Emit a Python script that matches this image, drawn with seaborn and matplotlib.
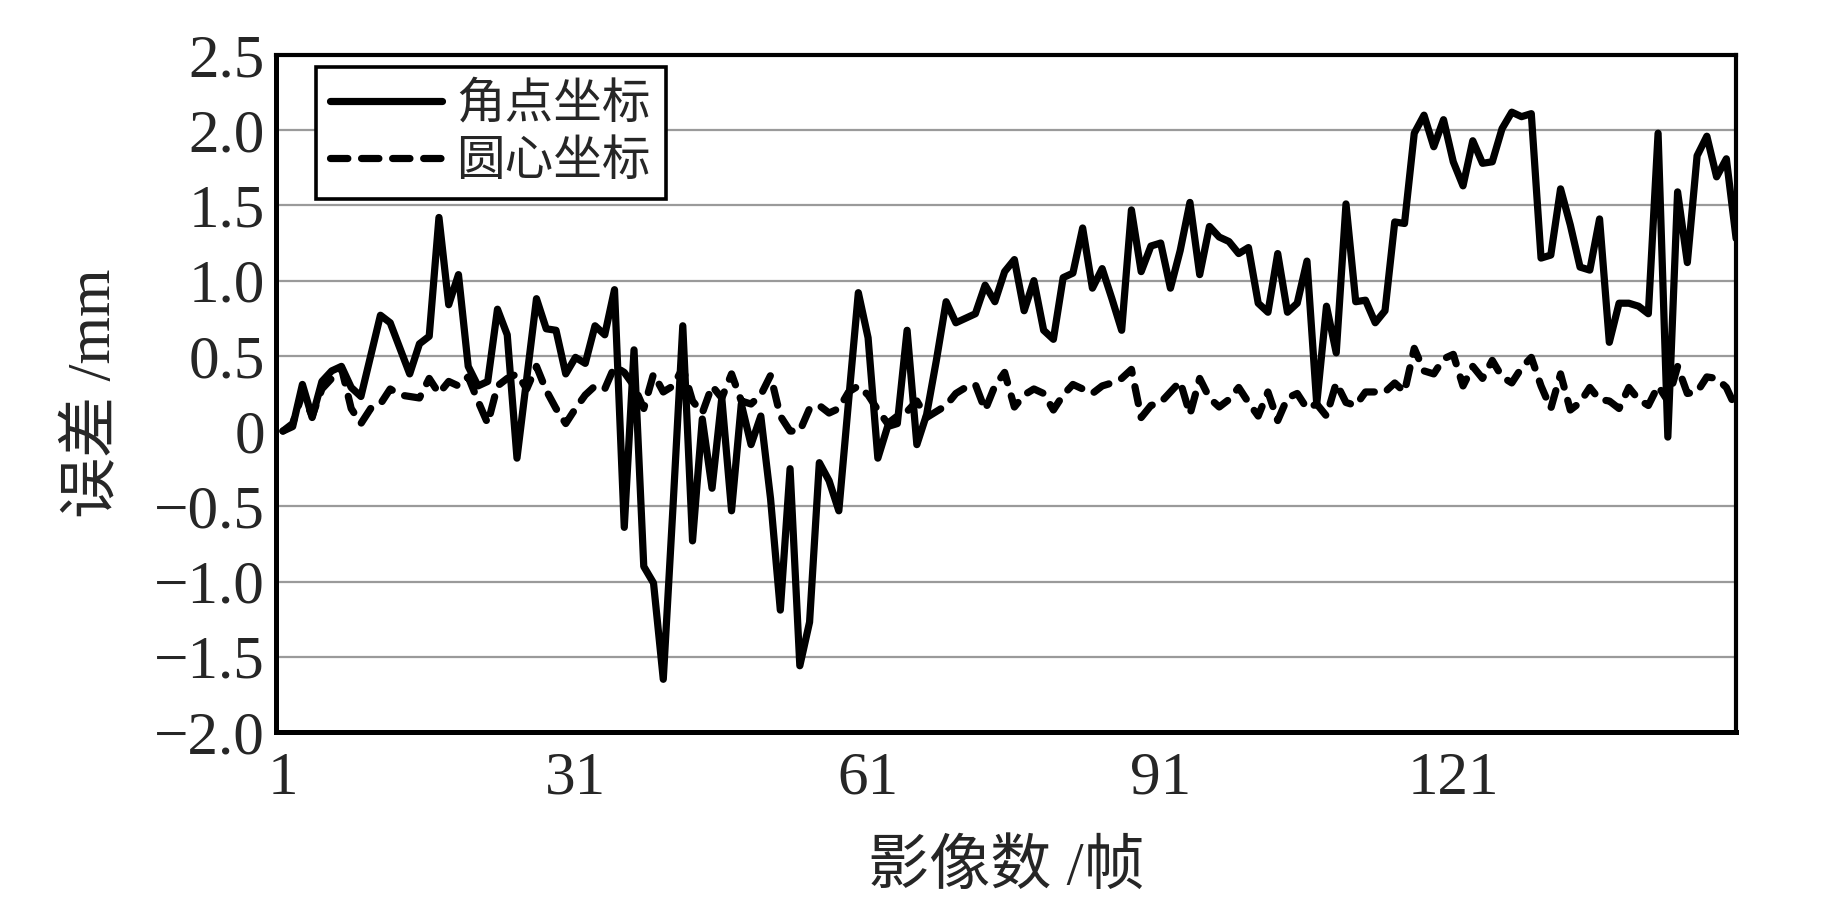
import numpy as np
import pandas as pd
import matplotlib
matplotlib.use("Agg")
import matplotlib.pyplot as plt
import seaborn as sns

# ---- data ----
corner_err = [
    0.00, 0.03, 0.31, 0.09, 0.33, 0.40, 0.43, 0.29, 0.23, 0.50,
    0.77, 0.72, 0.55, 0.38, 0.58, 0.63, 1.42, 0.84, 1.04, 0.43,
    0.30, 0.33, 0.81, 0.64, -0.18, 0.35, 0.88, 0.68, 0.67, 0.38,
    0.49, 0.45, 0.70, 0.64, 0.94, -0.64, 0.54, -0.90, -1.01, -1.65,
    -0.50, 0.70, -0.73, 0.08, -0.38, 0.22, -0.53, 0.18, -0.09, 0.10,
    -0.45, -1.19, -0.25, -1.56, -1.27, -0.21, -0.33, -0.53, 0.20, 0.92,
    0.62, -0.18, 0.03, 0.05, 0.67, -0.09, 0.11, 0.47, 0.86, 0.72,
    0.75, 0.78, 0.97, 0.86, 1.06, 1.14, 0.80, 1.00, 0.67, 0.61,
    1.02, 1.05, 1.35, 0.95, 1.08, 0.88, 0.67, 1.47, 1.06, 1.23,
    1.25, 0.95, 1.20, 1.52, 1.04, 1.36, 1.29, 1.26, 1.18, 1.22,
    0.85, 0.79, 1.18, 0.79, 0.85, 1.13, 0.18, 0.83, 0.52, 1.51,
    0.86, 0.87, 0.72, 0.80, 1.39, 1.38, 1.98, 2.10, 1.89, 2.07,
    1.79, 1.63, 1.93, 1.78, 1.79, 2.01, 2.12, 2.09, 2.11, 1.15,
    1.17, 1.61, 1.37, 1.09, 1.07, 1.41, 0.59, 0.85, 0.85, 0.83,
    0.78, 1.98, -0.04, 1.59, 1.12, 1.83, 1.96, 1.69, 1.81, 1.28,
]
center_err = [
    0.00, 0.05, 0.25, 0.10, 0.28, 0.35, 0.42, 0.15, 0.05, 0.15,
    0.18, 0.28, 0.24, 0.23, 0.22, 0.35, 0.25, 0.33, 0.30, 0.36,
    0.20, 0.05, 0.30, 0.35, 0.38, 0.28, 0.43, 0.27, 0.15, 0.05,
    0.15, 0.24, 0.30, 0.28, 0.43, 0.39, 0.30, 0.15, 0.38, 0.26,
    0.30, 0.42, 0.20, 0.12, 0.30, 0.22, 0.38, 0.20, 0.18, 0.24,
    0.37, 0.10, 0.00, 0.00, 0.15, 0.17, 0.12, 0.15, 0.26, 0.30,
    0.24, 0.14, 0.05, 0.10, 0.13, 0.20, 0.09, 0.13, 0.17, 0.25,
    0.29, 0.31, 0.14, 0.30, 0.39, 0.16, 0.24, 0.28, 0.25, 0.14,
    0.24, 0.31, 0.28, 0.25, 0.30, 0.32, 0.35, 0.41, 0.09, 0.17,
    0.19, 0.26, 0.33, 0.11, 0.35, 0.22, 0.16, 0.21, 0.29, 0.19,
    0.10, 0.26, 0.07, 0.22, 0.25, 0.15, 0.18, 0.10, 0.32, 0.19,
    0.17, 0.26, 0.26, 0.26, 0.32, 0.26, 0.55, 0.40, 0.38, 0.48,
    0.51, 0.30, 0.43, 0.35, 0.47, 0.36, 0.32, 0.42, 0.49, 0.30,
    0.15, 0.38, 0.14, 0.19, 0.29, 0.21, 0.20, 0.15, 0.29, 0.21,
    0.17, 0.30, 0.20, 0.43, 0.25, 0.26, 0.36, 0.35, 0.29, 0.15,
]
frames = np.arange(1, len(corner_err) + 1)
series_names = ["角点坐标", "圆心坐标"]
x_ticks = [1, 31, 61, 91, 121]
y_ticks = [-2.0, -1.5, -1.0, -0.5, 0, 0.5, 1.0, 1.5, 2.0, 2.5]
y_tick_labels = ["\u22122.0", "\u22121.5", "\u22121.0", "\u22120.5", "0",
                 "0.5", "1.0", "1.5", "2.0", "2.5"]
grid_values = [-1.5, -1.0, -0.5, 0.5, 1.0, 1.5, 2.0]
x_label = "影像数 /帧"
y_label = "误差 /mm"

df = pd.DataFrame({"frame": frames, "corner": corner_err, "center": center_err})

# ---- style ----
sns.set_style("white")
plt.rcParams["font.family"] = ["Liberation Serif", "Noto Sans CJK SC"]
plt.rcParams["axes.unicode_minus"] = True

fig = plt.figure(figsize=(18.43, 8.97), dpi=100)
ax = fig.add_axes([0.1498, 0.184, 0.7922, 0.7547])

for gv in grid_values:
    ax.axhline(gv, color="#9a9a9a", lw=1.6, zorder=0)

sns.lineplot(data=df, x="frame", y="corner", ax=ax, color="black", lw=5.2,
             label=series_names[0], solid_joinstyle="round",
             solid_capstyle="round", zorder=3)
sns.lineplot(data=df, x="frame", y="center", ax=ax, color="black", lw=5.2,
             label=series_names[1], linestyle=(0, (2.4, 1.9)),
             dash_capstyle="round", dash_joinstyle="round", zorder=4)

ax.set_xlim(0.3, 150.0)
ax.set_ylim(-2.0, 2.5)
ax.set_xticks(x_ticks)
ax.set_xticklabels([str(t) for t in x_ticks])
ax.set_yticks(y_ticks)
ax.set_yticklabels(y_tick_labels)
ax.tick_params(axis="x", direction="in", length=11, width=1.5, pad=14,
               labelsize=44, color="black")
ax.tick_params(axis="y", length=0, pad=8, labelsize=44)

ax.set_xlabel(x_label, fontsize=44, labelpad=24)
ax.set_ylabel(y_label, fontsize=44, labelpad=22)

for side, sp in ax.spines.items():
    sp.set_visible(True)
    sp.set_color("black")
    sp.set_linewidth(3.0)
ax.spines["left"].set_linewidth(3.6)
ax.spines["bottom"].set_linewidth(3.6)

leg = ax.legend(loc="upper left", bbox_to_anchor=(0.027, 0.982),
                borderaxespad=0, fontsize=35, frameon=True, fancybox=False,
                handlelength=2.3, handletextpad=0.3, labelspacing=0.25,
                borderpad=0.3)
leg.get_frame().set_edgecolor("black")
leg.get_frame().set_linewidth(2.6)
leg.get_frame().set_facecolor("white")
leg.get_frame().set_alpha(1)

fig.savefig("out.png", dpi=100)
